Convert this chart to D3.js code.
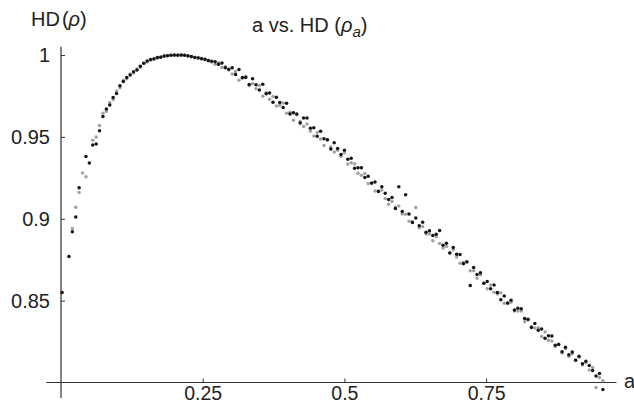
<!DOCTYPE html>
<html>
<head>
<meta charset="utf-8">
<script src="https://cdn.jsdelivr.net/npm/d3@7"></script>
<style>
  body { margin: 0; background: #fff; }
  text { font-family: "Liberation Sans", Arial, Helvetica, sans-serif; fill: #222; }
</style>
</head>
<body>
<div id="chartArea"></div>
<script>
// sampled values of a (shared by both runs)
const aValues = [
  0.002,0.008,0.014,0.020,0.026,0.032,0.038,0.044,0.050,0.056,
  0.062,0.068,0.074,0.080,0.086,0.092,0.098,0.104,0.110,0.116,
  0.122,0.128,0.134,0.140,0.146,0.152,0.158,0.164,0.170,0.176,
  0.182,0.188,0.194,0.200,0.206,0.212,0.218,0.224,0.230,0.236,
  0.242,0.248,0.254,0.260,0.266,0.272,0.278,0.284,0.290,0.296,
  0.302,0.308,0.314,0.320,0.326,0.332,0.338,0.344,0.350,0.356,
  0.362,0.368,0.374,0.380,0.386,0.392,0.398,0.404,0.410,0.416,
  0.422,0.428,0.434,0.440,0.446,0.452,0.458,0.464,0.470,0.476,
  0.482,0.488,0.494,0.500,0.506,0.512,0.518,0.524,0.530,0.536,
  0.542,0.548,0.554,0.560,0.566,0.572,0.578,0.584,0.590,0.596,
  0.602,0.608,0.614,0.620,0.626,0.632,0.638,0.644,0.650,0.656,
  0.662,0.668,0.674,0.680,0.686,0.692,0.698,0.704,0.710,0.716,
  0.722,0.728,0.734,0.740,0.746,0.752,0.758,0.764,0.770,0.776,
  0.782,0.788,0.794,0.800,0.806,0.812,0.818,0.824,0.830,0.836,
  0.842,0.848,0.854,0.860,0.866,0.872,0.878,0.884,0.890,0.896,
  0.902,0.908,0.914,0.920,0.926,0.932,0.938,0.944,0.950,0.956
];

// HD values, black run (null = no point)
const hdBlack = [
  0.855,null,0.877,0.892,0.901,0.919,null,0.938,0.934,0.945,
  0.9457,0.9537,0.9625,0.9670,0.9695,0.9740,0.9765,0.9812,0.9838,0.9862,
  0.9878,0.9897,0.9908,0.9931,0.9950,0.9963,0.9972,0.9976,0.9984,0.9987,
  0.9994,0.9996,0.9999,1.0000,0.9999,1.0000,0.9998,0.9995,0.9991,0.9985,
  0.9983,0.9977,0.9974,0.9966,0.9962,0.9959,0.9944,0.9951,0.9922,0.9913,
  0.9922,0.9881,0.9911,0.9863,0.9863,0.9820,0.9855,0.9818,0.9786,0.9821,
  0.9763,0.9768,0.9711,0.9742,0.9710,0.9679,0.9705,0.9639,0.9647,0.9640,
  0.9585,0.9615,0.9615,0.9552,0.9555,0.9504,0.9535,0.9488,0.9483,0.9426,
  0.9464,0.9429,0.9392,0.9419,0.9364,0.9370,0.9308,0.9312,0.9312,0.9252,
  0.9259,0.9219,0.9224,0.9167,0.9196,0.9155,0.9118,0.9130,0.9063,0.9195,
  0.9045,0.9146,0.9029,0.8977,0.9005,0.8957,0.8979,0.8917,0.8927,0.8897,
  0.8906,0.8928,0.8838,0.8851,0.8791,0.8825,0.8783,0.8781,0.8725,0.8737,
  0.8593,0.8702,0.8660,0.8670,0.8606,0.8617,0.8573,0.8595,0.8549,0.8506,
  0.8528,0.8485,0.8502,0.8443,0.8453,0.8451,0.8391,0.8386,0.8336,0.8361,
  0.8319,0.8327,0.8270,0.8286,0.8284,0.8228,0.8232,0.8188,0.8216,0.8170,
  0.8186,0.8136,0.8160,0.8115,0.8130,0.8104,0.8074,0.8039,0.8055,0.7958
];

// HD values, gray run
const hdGray = [
  null,null,null,0.894,0.907,0.916,0.928,0.9256,null,0.948,
  0.950,0.957,0.9645,0.9655,0.9710,0.9728,0.9780,0.9800,0.9846,0.9855,
  0.9884,0.9890,0.9914,0.9925,0.9948,0.9958,0.9968,0.9979,0.9981,0.9990,
  0.9992,0.9997,0.9998,0.9999,1.0000,0.9998,0.9999,0.9992,0.9989,0.9987,
  0.9979,0.9980,0.9969,0.9964,0.9957,0.9943,0.9952,0.9924,0.9930,0.9908,
  0.9884,0.9899,0.9846,0.9858,0.9870,0.9812,0.9825,0.9794,0.9813,0.9748,
  0.9769,0.9730,0.9747,0.9688,0.9693,0.9707,0.9645,0.9651,0.9601,0.9635,
  0.9594,0.9563,0.9579,0.9534,0.9505,0.9526,0.9487,0.9448,0.9481,0.9438,
  0.9408,0.9419,0.9380,0.9403,0.9334,0.9342,0.9336,0.9278,0.9266,0.9276,
  0.9215,0.9215,0.9170,0.9169,0.9176,0.9123,0.9088,0.9106,0.9071,0.9078,
  0.9029,0.9027,0.8985,0.8983,0.9068,0.8945,0.8953,0.8907,0.8907,0.8865,
  0.8890,0.8849,0.8822,0.8831,0.8793,0.8811,0.8767,0.8729,0.8735,0.8735,
  0.8682,0.8682,0.8636,0.8658,0.8606,0.8573,0.8595,0.8551,0.8541,0.8546,
  0.8484,0.8483,0.8490,0.8437,0.8437,0.8437,0.8371,0.8382,0.8342,0.8333,
  0.8335,0.8281,0.8308,0.8258,0.8254,0.8220,0.8234,0.8180,0.8206,0.8160,
  0.8176,0.8138,0.8154,0.8107,0.8120,0.8076,0.8092,0.7970,0.8030,0.8010
];

const xTicks = [0.25, 0.5, 0.75];
const xTickLabels = ["0.25", "0.5", "0.75"];
const yTicks = [0.85, 0.9, 0.95, 1];
const yTickLabels = ["0.85", "0.9", "0.95", "1"];

const width = 634;
const height = 404;
const fontSize = 20;

const svg = d3.select("#chartArea").append("svg")
  .attr("width", width)
  .attr("height", height);

const x = d3.scaleLinear().domain([0, 1]).range([61, 627.8]);
const y = d3.scaleLinear().domain([0.8, 1]).range([382.5, 55]);

const toPoints = (vals) => aValues
  .map((a, i) => ({ a: a, v: vals[i] }))
  .filter((d) => d.v !== null);

// axes
const xAxis = d3.axisBottom(x)
  .tickValues(xTicks)
  .tickFormat((d, i) => xTickLabels[i])
  .tickSize(-4)
  .tickPadding(3.5);

const yAxis = d3.axisLeft(y)
  .tickValues(yTicks)
  .tickFormat((d, i) => yTickLabels[i])
  .tickSize(-4)
  .tickPadding(11);

const gx = svg.append("g")
  .attr("transform", `translate(0,${y(0.8)})`)
  .call(xAxis);
gx.select(".domain").remove();
gx.selectAll(".tick line").attr("stroke", "#333");
gx.selectAll(".tick text")
  .style("font-size", "19.5px")
  .attr("fill", "#222");

const gy = svg.append("g")
  .attr("transform", `translate(${x(0)},0)`)
  .call(yAxis);
gy.select(".domain").remove();
gy.selectAll(".tick line").attr("stroke", "#333");
gy.selectAll(".tick text")
  .style("font-size", fontSize + "px")
  .attr("fill", "#222");

// axis lines, crossing at (0, 0.8)
svg.append("line")
  .attr("x1", x(-0.026)).attr("x2", x(0.98))
  .attr("y1", y(0.8)).attr("y2", y(0.8))
  .attr("stroke", "#333").attr("stroke-width", 1.2);
svg.append("line")
  .attr("x1", x(0)).attr("x2", x(0))
  .attr("y1", y(1.005)).attr("y2", y(0.7905))
  .attr("stroke", "#333").attr("stroke-width", 1.2);

// points
svg.append("g").selectAll("circle")
  .data(toPoints(hdGray))
  .enter().append("circle")
  .attr("cx", (d) => x(d.a))
  .attr("cy", (d) => y(d.v))
  .attr("r", 1.75)
  .attr("fill", "#a3a3a3");

svg.append("g").selectAll("circle")
  .data(toPoints(hdBlack))
  .enter().append("circle")
  .attr("cx", (d) => x(d.a))
  .attr("cy", (d) => y(d.v))
  .attr("r", 1.75)
  .attr("fill", "#151515");

// labels
const yLabel = svg.append("text")
  .attr("x", 31).attr("y", 26)
  .style("font-size", fontSize + "px");
yLabel.append("tspan").text("HD");
yLabel.append("tspan").attr("dx", 2).text("(");
yLabel.append("tspan").style("font-style", "italic").text("ρ");
yLabel.append("tspan").text(")");

svg.append("text")
  .attr("x", 624).attr("y", 388)
  .style("font-size", fontSize + "px")
  .text("a");

const title = svg.append("text")
  .attr("x", 252).attr("y", 32)
  .style("font-size", fontSize + "px");
title.append("tspan").text("a vs. HD (");
title.append("tspan").style("font-style", "italic").text("ρ");
title.append("tspan").style("font-style", "italic")
  .style("font-size", "15px").attr("dy", 5).text("a");
title.append("tspan").attr("dy", -5).text(")");
</script>
</body>
</html>
